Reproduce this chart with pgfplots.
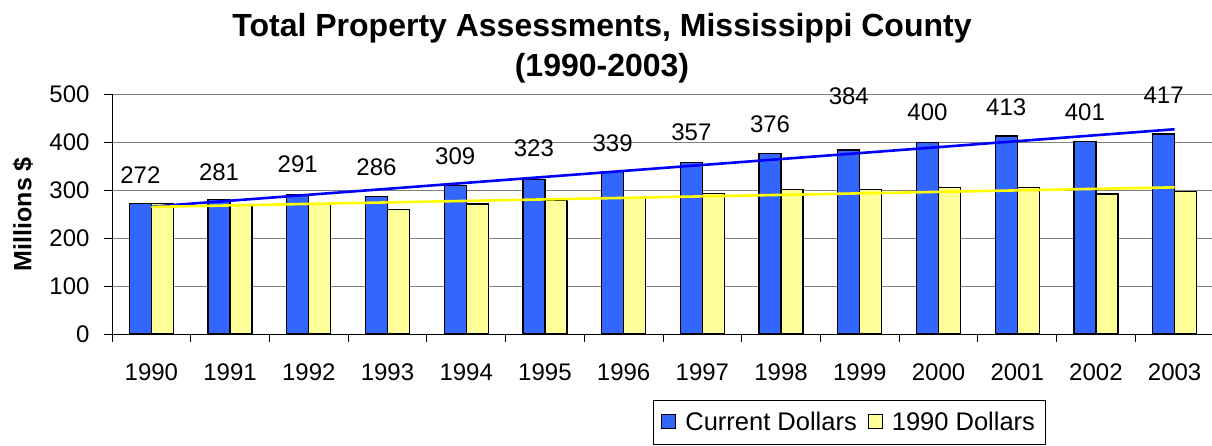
\documentclass[border=0pt]{standalone}
\usepackage{fontspec}
\setmainfont{Liberation Sans}
\usepackage{pgfplots}
\pgfplotsset{compat=1.18}
\definecolor{barblue}{HTML}{3366FF}
\definecolor{baryellow}{HTML}{FFFF99}
\definecolor{trendblue}{HTML}{0000FF}
\definecolor{trendyellow}{HTML}{FFFF00}
\definecolor{gridgray}{HTML}{808080}
\newcommand{\lbl}{\fontsize{24}{28}\selectfont}
\begin{document}
\begin{tikzpicture}
\begin{axis}[
  at={(112pt,111pt)}, anchor=south west,
  scale only axis, width=1102pt, height=239.7pt,
  xmin=-0.5, xmax=13.5, ymin=0, ymax=500,
  axis x line*=bottom, axis y line*=left,
  xtick={0,1,2,3,4,5,6,7,8,9,10,11,12,13},
  xticklabels={1990,1991,1992,1993,1994,1995,1996,1997,1998,1999,2000,2001,2002,2003},
  xtick style={draw=none},
  xticklabel style={yshift=-18pt},
  yticklabel style={xshift=-11pt},
  ytick={0,100,200,300,400,500},
  tick align=outside, major tick length=8pt,
  ytick style={black, line width=0.8pt},
  ymajorgrids, grid style={gridgray, line width=0.8pt},
  axis line style={black, line width=0.8pt},
  tick label style={font=\lbl},
  /pgf/number format/assume math mode=true,
  ylabel={Millions \$},
  every axis y label/.style={at={(axis description cs:-0.0808,0.5)}, rotate=90, anchor=center, font=\bfseries\fontsize{25}{29}\selectfont},
  clip=false,
  legend columns=2,
  legend style={at={(0.4909,-0.2753)}, anchor=north west, draw=black, line width=0.8pt,
    font=\fontsize{25.5}{29}\selectfont,
    inner xsep=8pt, inner ysep=10pt,
    /tikz/every odd column/.append style={column sep=7pt},
    /tikz/every even column/.append style={column sep=9pt}},
]
\addplot[ybar, bar width=22pt, bar shift=-11pt, fill=barblue, draw=black, line width=1.2pt,
  legend image code/.code={\draw[fill=barblue,draw=black,line width=1pt] (0pt,-6pt) rectangle (14pt,8pt);}]
  coordinates {(0,272) (1,281) (2,291) (3,286) (4,309) (5,323) (6,339) (7,357) (8,376) (9,384) (10,400) (11,413) (12,401) (13,417)};
\addlegendentry{Current Dollars}
\addplot[ybar, bar width=22pt, bar shift=11pt, fill=baryellow, draw=black, line width=1.2pt,
  legend image code/.code={\draw[fill=baryellow,draw=black,line width=1pt] (0pt,-6pt) rectangle (14pt,8pt);}]
  coordinates {(0,272) (1,268) (2,273) (3,259) (4,271) (5,278) (6,282) (7,293) (8,301) (9,301) (10,305) (11,305) (12,292) (13,297)};
\addlegendentry{1990 Dollars}
% linear trend lines
\addplot[trendblue, line width=2.6pt, forget plot] coordinates {(0,265.6) (13,427.1)};
\addplot[trendyellow, line width=2.6pt, forget plot] coordinates {(0,265.1) (13,305.9)};
% data labels
\addplot[draw=none, mark=none, forget plot, nodes near coords, point meta=explicit symbolic,
  nodes near coords style={anchor=center, font=\lbl, inner sep=0pt}]
  coordinates {(-0.14,332)[272] (0.86,338)[281] (1.86,354)[291] (2.86,347)[286] (3.86,371)[309]
    (4.86,387)[323] (5.86,398)[339] (6.86,420)[357] (7.86,437)[376] (8.86,495)[384]
    (9.86,462)[400] (10.86,472)[413] (11.86,462)[401] (12.86,498)[417]};
% category boundary ticks
\foreach \t in {-0.5,0.5,1.5,2.5,3.5,4.5,5.5,6.5,7.5,8.5,9.5,10.5,11.5,12.5,13.5}{
  \edef\tmp{\noexpand\draw[black,line width=0.8pt] (axis cs:\t,0) -- ++(0pt,-8pt);}\tmp
}
\end{axis}
\node[font=\bfseries\fontsize{32}{38}\selectfont, anchor=base] at (602pt,408pt) {Total Property Assessments, Mississippi County};
\node[font=\bfseries\fontsize{32}{38}\selectfont, anchor=base] at (602pt,368pt) {(1990-2003)};
\pgfresetboundingbox
\path[use as bounding box] (0,0) rectangle (1212pt,445pt);
\end{tikzpicture}
\end{document}
